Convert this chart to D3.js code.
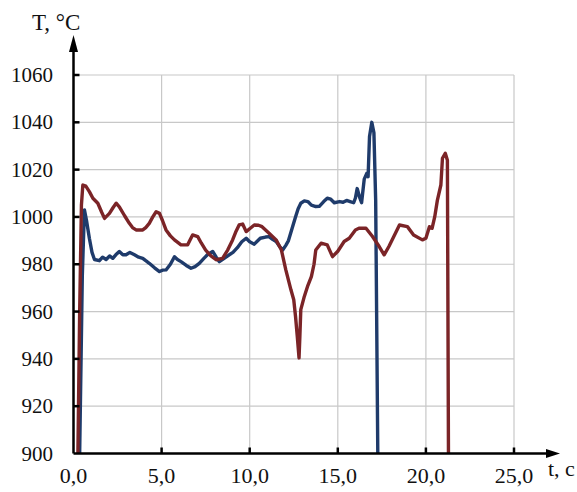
<!DOCTYPE html>
<html lang="ru">
<head>
<meta charset="utf-8">
<title>T(t)</title>
<script src="https://d3js.org/d3.v7.min.js"></script>
<style>
  body { margin: 0; background: #fff; }
  text { font-family: "Liberation Serif", "Times New Roman", serif; fill: #111; }
</style>
</head>
<body>
<script>

var width = 577, height = 492

// axis ticks
var xTicks = [0, 5, 10, 15, 20, 25]
var yTicks = [900, 920, 940, 960, 980, 1000, 1020, 1040, 1060]

// blue curve: time, s / temperature, °C
var blueT = [0.35,0.5,0.62,0.75,0.9,1.05,1.19,1.47,1.65,1.85,2.05,2.23,2.4,2.6,2.8,2.98,3.2,3.46,3.7,3.93,4.1,4.3,4.6,4.88,5.05,5.25,5.5,5.73,5.9,6.1,6.4,6.67,6.9,7.14,7.4,7.6,7.9,8.1,8.28,8.55,8.84,9.05,9.3,9.55,9.8,10.0,10.26,10.6,10.9,11.1,11.3,11.5,11.7,11.87,12.05,12.2,12.4,12.6,12.75,12.9,13.1,13.3,13.5,13.75,13.95,14.2,14.4,14.6,14.8,15.1,15.3,15.5,15.7,15.9,16.0,16.1,16.25,16.35,16.5,16.65,16.72,16.8,16.93,17.05,17.15,17.27]
var blueV = [900,975,1003,998,991,985,982,981.5,983,982,983.5,982.5,984,985.4,984,984,985,984,983,982.5,981.5,980.4,978.5,976.9,977.5,977.6,980,983.2,982,981.1,979.5,978.3,979,980.4,982.5,984,985.4,983,981.1,982.5,984,985,987,989.5,991,989.5,988.5,991,991.5,991.7,990.5,989.6,987.5,986,988,990,995,1000,1003.5,1005.8,1006.8,1006.5,1005,1004.4,1004.5,1006.5,1007.9,1007.5,1006,1006.5,1006.2,1007,1006.5,1006,1008,1012,1008,1006,1016,1018.5,1017,1034,1040,1035.6,1007,900]

// red curve
var redT = [0.25,0.35,0.45,0.53,0.7,0.9,1.1,1.38,1.6,1.76,2.04,2.25,2.42,2.6,2.9,3.17,3.35,3.55,3.93,4.1,4.3,4.5,4.69,4.88,5.05,5.25,5.5,5.73,6.1,6.48,6.6,6.76,7.05,7.25,7.5,7.8,8.09,8.46,8.75,9.03,9.2,9.4,9.6,9.8,10.0,10.26,10.5,10.7,11.1,11.5,11.8,12.05,12.34,12.5,12.6,12.7,12.8,12.85,12.9,13.1,13.3,13.5,13.65,13.75,14.05,14.4,14.7,15.0,15.36,15.65,16.0,16.2,16.6,16.97,17.35,17.63,17.9,18.2,18.5,18.95,19.3,19.8,20.0,20.2,20.35,20.5,20.65,20.85,20.94,21.1,21.22,21.28]
var redV = [900,960,1005,1013.5,1013,1010.7,1007.9,1005.8,1002,999.4,1001.5,1004,1005.8,1004.3,1000.5,997.3,995.5,994.5,994.5,995.5,997.3,1000,1002.2,1001.5,998.5,994.5,992,990.3,988.2,988.2,990,992.4,991.7,989,986,983.5,981.9,982.5,986,990.3,993.5,996.6,997,993.8,995,996.6,996.5,995.9,993.1,990.3,986,977.6,969.2,965,958,949.5,940.4,950,960.8,966.4,971,974.8,980,986,988.9,988.2,983.2,985.5,989.6,991,994.5,995.2,995.2,991.7,987.5,984,987.5,992,996.6,995.9,992.4,990.3,991,995.9,995.2,1000,1007,1013.5,1024.8,1026.9,1024,900]

var svg = d3.select("body").append("svg")
    .attr("width", width)
    .attr("height", height)

var x = d3.scaleLinear().domain([0, 25]).range([73.5, 514])
var y = d3.scaleLinear().domain([900, 1060]).range([453.5, 75])

var fmt = function(d){ return d3.format(".1f")(d).replace(".", ",") }

// grid
var grid = svg.append("g").attr("stroke", "#c8c8c8").attr("stroke-width", 1.2)
grid.selectAll(".gx").data(xTicks.slice(1)).enter().append("line")
    .attr("x1", function(d){ return x(d) }).attr("x2", function(d){ return x(d) })
    .attr("y1", y(1060)).attr("y2", y(900))
grid.selectAll(".gy").data(yTicks.slice(1)).enter().append("line")
    .attr("x1", x(0)).attr("x2", x(25))
    .attr("y1", function(d){ return y(d) }).attr("y2", function(d){ return y(d) })

// curves
var line = d3.line()
    .x(function(d){ return x(d[0]) })
    .y(function(d){ return y(d[1]) })

svg.append("path")
    .datum(d3.zip(blueT, blueV))
    .attr("d", line)
    .attr("fill", "none")
    .attr("stroke", "#1f3b6b")
    .attr("stroke-width", 3.4)
    .attr("stroke-linejoin", "round")

svg.append("path")
    .datum(d3.zip(redT, redV))
    .attr("d", line)
    .attr("fill", "none")
    .attr("stroke", "#7b2427")
    .attr("stroke-width", 3.4)
    .attr("stroke-linejoin", "round")

// axes with arrows
var ax = svg.append("g").attr("stroke", "#000").attr("stroke-width", 2.5)
ax.append("line").attr("x1", x(0)).attr("x2", 550).attr("y1", y(900)).attr("y2", y(900))
ax.append("line").attr("x1", x(0)).attr("x2", x(0)).attr("y1", y(900)).attr("y2", 48)
svg.append("path")
    .attr("d", "M560," + y(900) + " L546," + (y(900) - 4.5) + " L546," + (y(900) + 4.5) + "Z")
    .attr("fill", "#000")
svg.append("path")
    .attr("d", "M" + x(0) + ",35 L" + (x(0) - 4.5) + ",52 L" + (x(0) + 4.5) + ",52Z")
    .attr("fill", "#000")

// ticks
ax.selectAll(".tx").data(xTicks.slice(1)).enter().append("line")
    .attr("x1", function(d){ return x(d) }).attr("x2", function(d){ return x(d) })
    .attr("y1", y(900)).attr("y2", y(900) - 6)
ax.selectAll(".ty").data(yTicks.slice(1)).enter().append("line")
    .attr("x1", x(0)).attr("x2", x(0) + 6)
    .attr("y1", function(d){ return y(d) }).attr("y2", function(d){ return y(d) })

// labels
svg.selectAll(".lx").data(xTicks).enter().append("text")
    .attr("x", function(d){ return x(d) })
    .attr("y", 483)
    .attr("text-anchor", "middle")
    .style("font-size", "22px")
    .text(fmt)

svg.selectAll(".ly").data(yTicks).enter().append("text")
    .attr("x", 53)
    .attr("y", function(d){ return y(d) })
    .attr("dy", "0.34em")
    .attr("text-anchor", "end")
    .style("font-size", "21px")
    .text(function(d){ return d })

svg.append("text")
    .attr("x", 32).attr("y", 30)
    .style("font-size", "23px")
    .text("T, °C")

svg.append("text")
    .attr("x", 548).attr("y", 476)
    .style("font-size", "22px")
    .text("t, c")

</script>
</body>
</html>
